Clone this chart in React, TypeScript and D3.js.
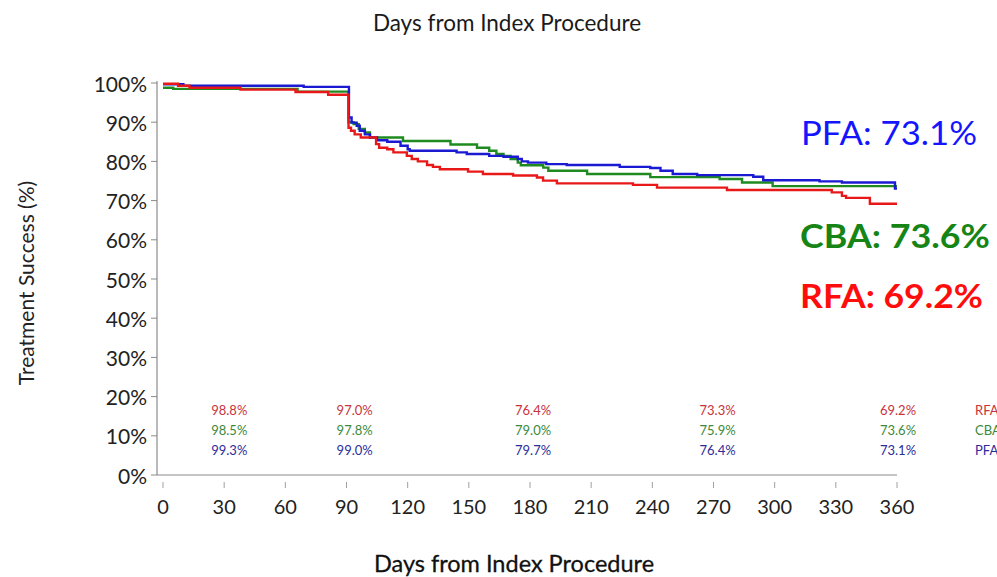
import React from "react";
import * as d3 from "d3";

const xTicks = [0, 30, 60, 90, 120, 150, 180, 210, 240, 270, 300, 330, 360];
const yTicks = [0, 10, 20, 30, 40, 50, 60, 70, 80, 90, 100];

// Kaplan-Meier step curves: [day, treatment success %]
const rfa: [number, number][] = [
  [0, 99.8], [7.4, 99.3], [13, 98.8], [38, 98.3], [65, 97.7], [81, 97.0],
  [91, 88.6], [92.2, 87.8], [94, 86.9], [97, 86.1], [104.5, 84.4], [106, 83.5],
  [110, 83.1], [113, 82.3], [119.6, 81.4], [122, 80.6], [125, 80.0], [129.5, 79.1],
  [132.4, 78.6], [135.8, 78.0], [149.6, 77.4], [156.9, 76.8], [171.7, 76.4],
  [183.4, 75.9], [186.4, 75.1], [193.2, 74.4], [230.5, 74.0], [242.3, 73.3],
  [276.6, 72.7], [328, 72.1], [333, 71.2], [335, 70.7], [346.7, 69.2], [360, 69.2],
];
const cba: [number, number][] = [
  [0, 98.8], [5, 98.5], [66, 97.8], [91, 90.0], [93.5, 89.5], [96, 88.3],
  [99, 87.4], [101.5, 86.1], [117.7, 85.2], [141, 84.3], [154, 83.5], [160, 82.7],
  [163.5, 81.9], [167, 81.4], [170.5, 80.6], [174, 79.7], [175.5, 79.0],
  [186.5, 78.4], [189, 77.6], [208, 76.8], [239, 76.0], [273, 75.5], [284, 74.6],
  [299, 73.7], [360, 73.7],
];
const pfa: [number, number][] = [
  [0, 99.7], [10, 99.3], [69, 99.0], [91.2, 91.2], [92.5, 89.9], [95, 89.1],
  [96.5, 87.8], [99, 86.9], [101.5, 86.1], [105, 85.4], [110, 85.0], [116.5, 84.0],
  [120, 83.1], [121, 82.7], [144, 82.3], [149, 81.9], [160, 81.4], [167, 81.2],
  [174, 80.6], [176, 80.0], [179, 79.7], [188, 79.3], [198, 79.1], [224, 78.6],
  [239, 78.3], [244, 77.6], [250, 76.8], [262, 76.5], [289.5, 76.1], [294.4, 75.2],
  [322, 74.9], [333, 74.6], [359, 73.1], [360, 73.1],
];

const tableDays = [32.5, 94, 181.5, 272, 360.5];
const rfaTable = ["98.8%", "97.0%", "76.4%", "73.3%", "69.2%"];
const cbaTable = ["98.5%", "97.8%", "79.0%", "75.9%", "73.6%"];
const pfaTable = ["99.3%", "99.0%", "79.7%", "76.4%", "73.1%"];
const groupNames = ["RFA", "CBA", "PFA"];
const finalLabels = ["PFA: 73.1%", "CBA: 73.6%", "RFA: 69.2%"];

const W = 997;
const H = 577;
const FONT = "Lato, 'Open Sans', sans-serif";

export default function App() {
  const x = d3.scaleLinear().domain([0, 360]).range([163, 897]);
  const y = d3.scaleLinear().domain([0, 100]).range([475, 83]);
  const line = d3
    .line<[number, number]>()
    .x((d) => x(d[0]))
    .y((d) => y(d[1]))
    .curve(d3.curveStepAfter);

  const curves = [
    { data: cba, color: "#1f8a1f" },
    { data: pfa, color: "#1a1ad2" },
    { data: rfa, color: "#e81818" },
  ];
  const tableRows = [
    { vals: rfaTable, color: "#c8323c", yy: 410 },
    { vals: cbaTable, color: "#3b8a3b", yy: 430 },
    { vals: pfaTable, color: "#2c2c9c", yy: 450 },
  ];
  const axisX = 157;

  return (
    <svg
      width={W}
      height={H}
      style={{ position: "absolute", left: 0, top: 0, background: "#fff" }}
      fontFamily={FONT}
    >
      <rect width={W} height={H} fill="#fff" />
      {/* Top title */}
      <text x={507} y={22} textAnchor="middle" dominantBaseline="central" fontSize={22.5} fill="#1a1a1a">
        Days from Index Procedure
      </text>

      {/* Y axis */}
      <line x1={axisX} x2={axisX} y1={y(100) - 2} y2={y(0)} stroke="#8a8a8a" strokeWidth={1.2} />
      {yTicks.map((t) => (
        <g key={"y" + t}>
          <line x1={axisX - 6} x2={axisX} y1={y(t)} y2={y(t)} stroke="#8a8a8a" strokeWidth={1} />
          <text x={147} y={y(t)} textAnchor="end" dominantBaseline="central" fontSize={21} fill="#222">
            {t + "%"}
          </text>
        </g>
      ))}
      <text
        transform={`translate(25,${283}) rotate(-90)`}
        textAnchor="middle"
        dominantBaseline="central"
        fontSize={21}
        fill="#222"
      >
        Treatment Success (%)
      </text>

      {/* X axis */}
      <line x1={axisX} x2={x(360)} y1={y(0)} y2={y(0)} stroke="#8a8a8a" strokeWidth={1.2} />
      {xTicks.map((t) => (
        <g key={"x" + t}>
          <line x1={x(t)} x2={x(t)} y1={482} y2={488} stroke="#a0a0a0" strokeWidth={1} />
          <text x={x(t)} y={506} textAnchor="middle" dominantBaseline="central" fontSize={20} fill="#222">
            {t}
          </text>
        </g>
      ))}
      <text x={514} y={563} textAnchor="middle" dominantBaseline="central" fontSize={23.5} fill="#111" stroke="#111" strokeWidth={0.3}>
        Days from Index Procedure
      </text>

      {/* Curves */}
      {curves.map((c, i) => (
        <path key={i} d={line(c.data) || ""} fill="none" stroke={c.color} strokeWidth={2.4} />
      ))}

      {/* Survival-at-time table */}
      {tableRows.map((r, ri) => (
        <g key={"r" + ri}>
          {r.vals.map((v, i) => (
            <text
              key={i}
              x={x(tableDays[i])}
              y={r.yy}
              textAnchor="middle"
              dominantBaseline="central"
              fontSize={13}
              fill={r.color}
            >
              {v}
            </text>
          ))}
          <text x={975} y={r.yy} dominantBaseline="central" fontSize={13} fill={r.color}>
            {groupNames[ri]}
          </text>
        </g>
      ))}

      {/* Final labels */}
      <text x={801} y={145} fontSize={33} fill="#1414ff" textLength={176} lengthAdjust="spacingAndGlyphs">
        {finalLabels[0]}
      </text>
      <text x={800} y={248} fontSize={32} fontWeight="bold" fill="#168516" textLength={190} lengthAdjust="spacingAndGlyphs">
        {finalLabels[1]}
      </text>
      <text x={800} y={308} fontSize={32} fontWeight="bold" fill="#ff0d0d" textLength={183} lengthAdjust="spacingAndGlyphs">
        {finalLabels[2]}
      </text>
    </svg>
  );
}
